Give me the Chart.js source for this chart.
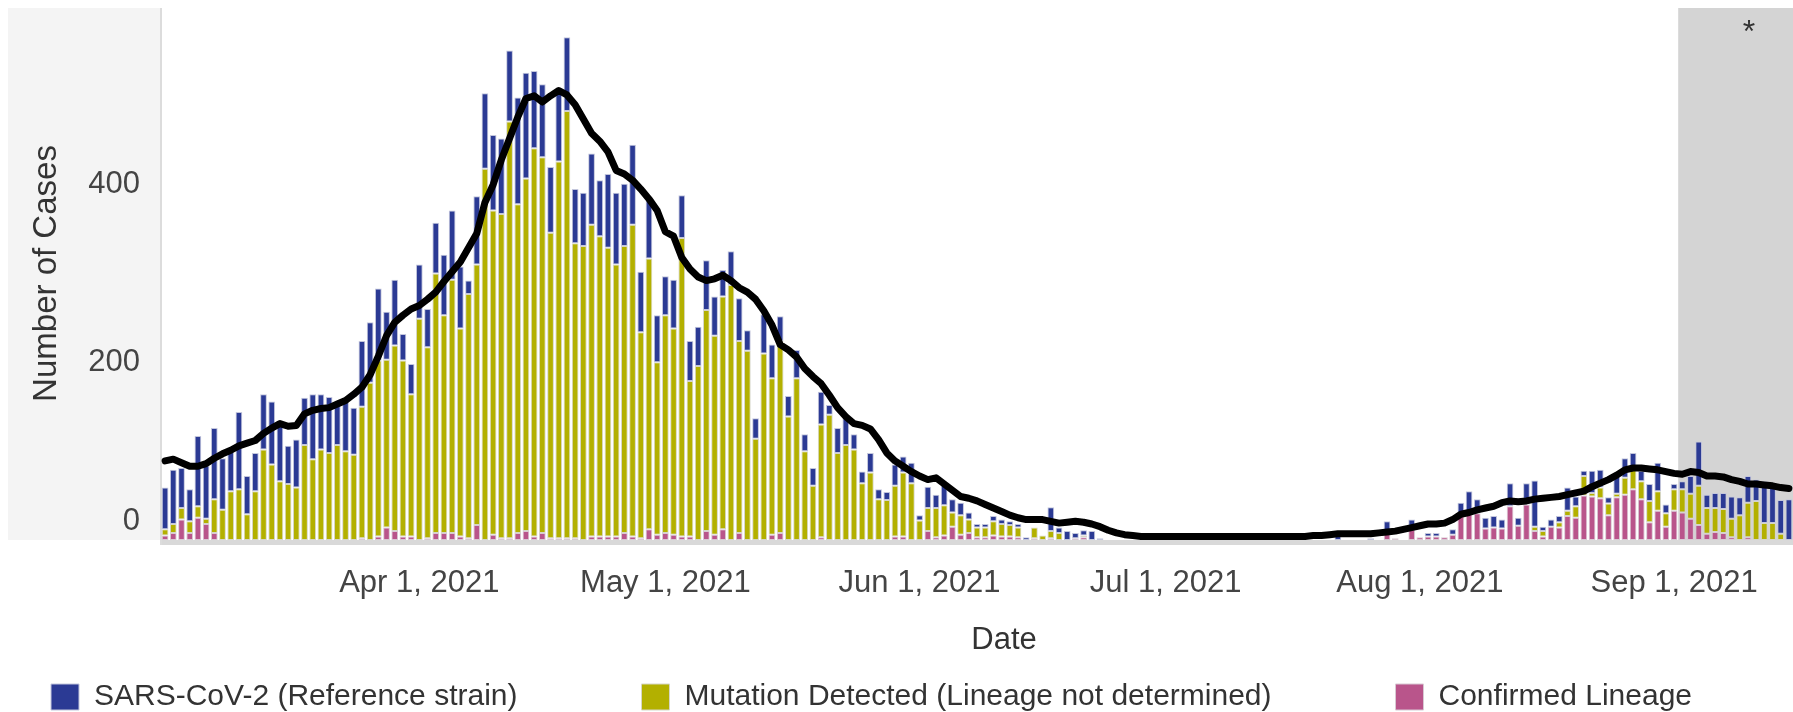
<!DOCTYPE html>
<html><head><meta charset="utf-8">
<script src="https://cdn.jsdelivr.net/npm/chart.js@4.4.1/dist/chart.umd.min.js"></script>
<style>html,body{margin:0;padding:0;background:#fff;overflow:hidden}#wrap{width:1793px;height:712px;position:relative}</style>
</head><body><div id="wrap"><canvas id="c" width="1793" height="712"></canvas></div>
<script>
// ---- data (daily, starting Mar 1, 2021) ----
const firstDay = [2021, 2, 1]; // year, monthIndex, day
const tickDates = ['Apr 1, 2021','May 1, 2021','Jun 1, 2021','Jul 1, 2021','Aug 1, 2021','Sep 1, 2021'];
const shadedFrom = 'Sep 2, 2021';
const shadeMark = '*';
const xTitle = 'Date';
const yTitle = 'Number of Cases';
const yTicks = [0, 200, 400];

const confirmedLineage = [
5,8,23,8,25,18,8,0,0,0,
0,0,0,0,0,0,0,0,0,0,
0,0,0,0,2,0,4,14,10,4,
4,0,2,8,8,8,4,2,17,0,
6,2,2,8,10,4,8,2,2,2,
2,0,4,4,4,4,8,4,2,12,
6,8,6,4,4,0,10,6,12,0,
8,0,0,0,6,8,0,0,0,0,
3,0,0,0,0,0,0,0,0,4,
4,0,0,10,3,5,15,6,8,3,
3,5,4,4,3,0,2,0,2,0,
0,2,3,0,0,0,0,0,0,0,
0,0,0,0,0,0,0,0,0,0,
0,0,0,0,0,0,0,0,0,0,
0,0,0,0,0,0,0,0,0,10,
2,0,12,3,4,4,3,6,27,30,
30,13,14,13,38,16,40,10,4,15,
14,27,25,50,49,47,28,48,51,57,
46,20,33,15,33,31,24,17,7,9,
8,3,0,3,0,0,0,0,0];

const mutationDetected = [
7,10,13,13,13,6,38,34,55,57,
29,55,102,85,66,63,59,107,91,102,
98,107,100,96,148,177,198,189,209,198,
160,249,215,292,245,285,234,275,293,418,
365,365,469,370,397,437,423,344,424,481,
332,331,351,338,325,306,323,351,232,305,
194,245,232,336,175,196,249,224,262,287,
216,213,114,210,176,216,139,182,100,61,
127,141,98,107,102,64,76,46,45,57,
72,64,22,26,33,34,16,22,15,11,
11,16,14,13,11,0,12,5,8,8,
0,0,2,0,0,0,0,0,0,0,
0,0,0,0,0,0,0,0,0,0,
0,0,0,0,0,0,0,0,0,0,
0,0,0,0,0,0,0,0,0,0,
0,0,0,0,0,0,0,0,0,0,
0,0,0,0,0,0,0,5,6,0,
6,6,13,22,4,12,13,4,19,26,
20,24,22,15,24,26,28,44,29,27,
27,21,28,39,44,19,19,7,0];

const referenceStrain = [
47,61,45,36,79,60,80,58,45,87,
43,43,62,71,68,43,54,53,73,62,
63,47,56,53,74,68,81,54,74,30,
34,61,43,57,68,78,70,15,77,85,
85,85,80,120,119,87,82,74,77,83,
61,60,80,63,83,81,70,90,68,67,
53,44,55,48,45,44,56,44,30,38,
48,23,23,44,38,28,23,32,19,20,
37,11,28,30,17,13,22,11,9,24,
18,23,6,24,15,25,15,14,8,4,
4,6,5,4,4,3,0,0,27,6,
10,6,6,10,2,0,0,0,0,0,
0,0,0,0,0,0,0,0,0,0,
0,0,0,0,0,0,0,0,0,0,
0,0,0,5,0,0,0,2,0,11,
0,0,11,0,4,4,0,6,15,25,
16,12,13,10,26,9,24,52,5,8,
7,26,11,6,25,20,7,22,22,15,
12,19,32,10,6,9,20,50,15,17,
18,25,20,30,24,47,40,38,46];

const movingAverage = [
89,91,87,83,83,86,92,97,101,106,
109,112,120,126,131,128,129,142,146,148,
149,153,157,164,172,186,207,230,245,253,
260,264,271,279,291,302,313,329,345,380,
400,428,452,476,497,500,493,500,506,501,
490,474,458,449,437,416,412,405,395,384,
371,347,342,318,305,296,292,294,298,292,
284,279,271,258,242,220,214,206,193,184,
176,163,149,139,131,129,125,113,98,89,
83,77,72,68,70,63,56,49,47,44,
40,36,32,28,25,23,23,23,21,19,
20,21,20,18,15,11,8,6,5,4,
4,4,4,4,4,4,4,4,4,4,
4,4,4,4,4,4,4,4,4,4,
5,5,6,7,7,7,7,7,8,9,
10,12,14,16,18,18,19,23,29,31,
34,36,38,42,44,43,44,46,47,48,
49,51,53,55,60,64,68,73,79,81,
81,80,79,77,75,74,77,76,72,72,
71,68,66,63,63,62,61,59,58];

// ---- categories ----
const MONTHS = ['Jan','Feb','Mar','Apr','May','Jun','Jul','Aug','Sep','Oct','Nov','Dec'];
const labels = referenceStrain.map((_, i) => {
  const d = new Date(Date.UTC(firstDay[0], firstDay[1], firstDay[2] + i));
  return MONTHS[d.getUTCMonth()] + ' ' + d.getUTCDate() + ', ' + d.getUTCFullYear();
});

const FONT = "'Liberation Sans', Arial, Helvetica, sans-serif";
Chart.defaults.font.family = FONT;

const decor = {
  id: 'decor',
  afterLayout(chart) {
    const lg = chart.legend;
    if (lg) {
      const pad = lg.options.labels.padding;
      lg.left = 51 - pad;
      lg.right = 10000;
      lg.top = 682 - pad;
    }
  },
  beforeDraw(chart) {
    const {ctx, chartArea: a, scales: {x}} = chart;
    ctx.save();
    ctx.fillStyle = '#ffffff';
    ctx.fillRect(0, 0, chart.width, chart.height);
    // y-axis panel
    ctx.fillStyle = '#f4f4f4';
    ctx.fillRect(8, 8, a.left - 8, a.bottom - 8);
    // shaded recent period
    const half = (x.getPixelForValue(1) - x.getPixelForValue(0)) / 2;
    const sx = x.getPixelForValue(labels.indexOf(shadedFrom)) - half;
    ctx.fillStyle = '#d4d4d4';
    ctx.fillRect(sx, 8, a.right - sx, a.bottom - 8);
    // baseline band
    ctx.fillStyle = '#d9d9d9';
    ctx.fillRect(a.left, a.bottom, a.right - a.left, 5);
    // left axis line
    ctx.fillStyle = '#dcdcdc';
    ctx.fillRect(a.left - 1, 8, 2, a.bottom - 8 + 5);
    ctx.restore();
  },
  afterDraw(chart) {
    const {ctx, chartArea: a} = chart;
    ctx.save();
    ctx.fillStyle = '#333333';
    ctx.font = '32px ' + FONT;
    ctx.textAlign = 'center';
    ctx.textBaseline = 'alphabetic';
    ctx.fillText(shadeMark, 1749, 42);
    // x-axis title (sits a little right of the plot centre, as in the source)
    ctx.font = '31px ' + FONT;
    ctx.textBaseline = 'middle';
    ctx.fillText(xTitle, (a.left + a.right) / 2 + 27, 640);
    ctx.restore();
  }
};

const barCommon = { borderWidth: 1, borderSkipped: false, order: 1, stack: 'cases' };

new Chart(document.getElementById('c'), {
  type: 'bar',
  data: {
    labels,
    datasets: [
      Object.assign({ label: 'Confirmed Lineage', data: confirmedLineage, backgroundColor: '#b9558b', borderColor: '#d8c9d3' }, barCommon),
      Object.assign({ label: 'Mutation Detected (Lineage not determined)', data: mutationDetected, backgroundColor: '#b3b000', borderColor: '#d6d6c8' }, barCommon),
      Object.assign({ label: 'SARS-CoV-2 (Reference strain)', data: referenceStrain, backgroundColor: '#2b3a94', borderColor: '#c3c6dc' }, barCommon),
      { type: 'line', label: 'Moving average', data: movingAverage, borderColor: '#000000', backgroundColor: '#000000',
        borderWidth: 7, pointRadius: 0, tension: 0, fill: false, order: 0, stack: 'avg', borderJoinStyle: 'round', borderCapStyle: 'round' }
    ]
  },
  options: {
    responsive: false,
    animation: false,
    layout: { padding: { top: 7, right: 0, bottom: 0, left: 0 } },
    datasets: { bar: { barPercentage: 0.82, categoryPercentage: 1 } },
    scales: {
      x: {
        stacked: true,
        grid: { display: false },
        border: { display: false },
        ticks: { autoSkip: false, maxRotation: 0, minRotation: 0, padding: 17, color: '#444444', font: { size: 31 } },
        afterBuildTicks: s => { s.ticks = s.ticks.filter(t => tickDates.includes(labels[t.value])); },
        afterFit: s => { s.height = 120; s.paddingLeft = 0; s.paddingRight = 0; },
        title: { display: false }
      },
      y: {
        stacked: true, min: 0, max: 600,
        grid: { display: false },
        border: { display: false },
        afterBuildTicks: s => { s.ticks = yTicks.map(v => ({ value: v })); },
        ticks: { padding: 13, color: '#444444', font: { size: 31 },
          callback: v => v === 0 ? ['0', ''] : String(v) },
        afterFit: s => { s.width = 161; s.paddingTop = 0; s.paddingBottom = 0; },
        title: { display: true, text: yTitle, color: '#333333', font: { size: 33 }, padding: { top: 27, bottom: 0 } }
      }
    },
    plugins: {
      legend: {
        position: 'bottom', align: 'start', maxHeight: 52,
        labels: { boxWidth: 28, boxHeight: 26, padding: 124, color: '#333333', font: { size: 30 },
          filter: item => item.datasetIndex < 3,
          sort: (a, b) => b.datasetIndex - a.datasetIndex }
      },
      tooltip: { enabled: false }
    }
  },
  plugins: [decor]
});
</script>
</body></html>
